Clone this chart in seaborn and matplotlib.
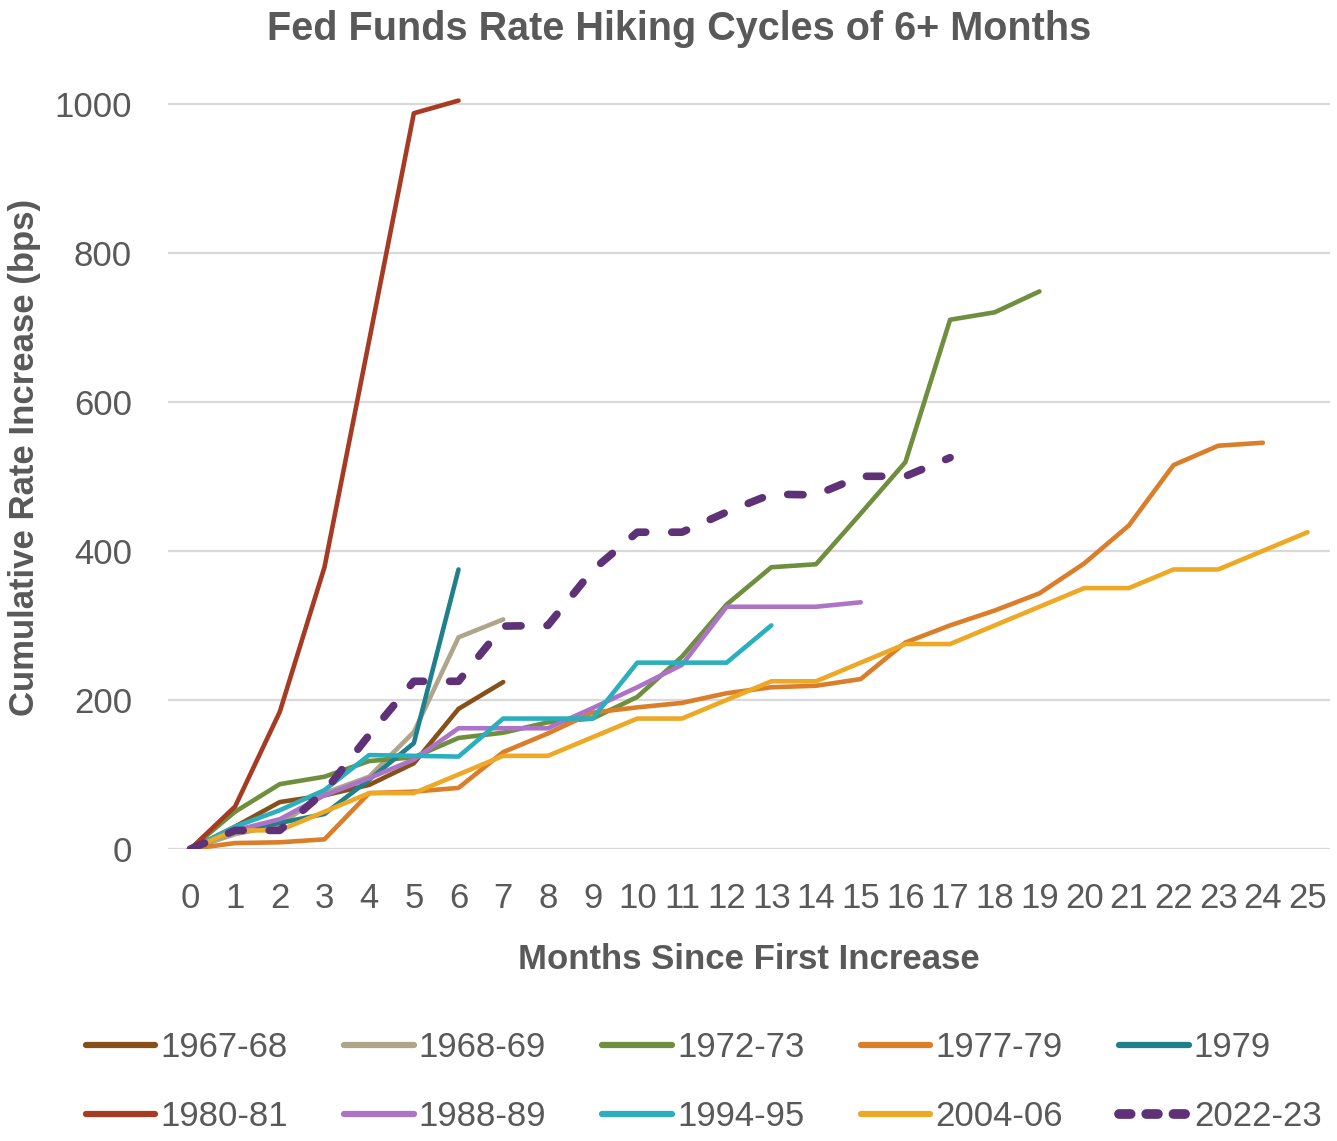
import numpy as np
import pandas as pd
import matplotlib
matplotlib.use("Agg")
import matplotlib.pyplot as plt
import seaborn as sns

# Cumulative increase (bps) by months since first hike
cycles = ["1967-68", "1968-69", "1972-73", "1977-79", "1979",
          "1980-81", "1988-89", "1994-95", "2004-06", "2022-23"]
c1967 = [0, 30, 63, 72, 86, 115, 188, 224]
c1968 = [0, 20, 32, 75, 97, 157, 284, 308]
c1972 = [0, 50, 87, 97, 118, 123, 149, 156, 170, 175, 204, 258, 328, 378, 382,
         450, 519, 710, 720, 748]
c1977 = [0, 8, 9, 13, 75, 77, 82, 130, 155, 183, 190, 196, 209, 217, 219,
         228, 277, 300, 320, 343, 383, 434, 515, 541, 545]
c1979 = [0, 25, 35, 47, 93, 142, 375]
c1980 = [0, 57, 184, 378, 682, 987, 1004]
c1988 = [0, 25, 40, 72, 95, 120, 162, 162, 162, 189, 217, 247, 325, 325, 325, 331]
c1994 = [0, 30, 52, 79, 126, 125, 124, 175, 175, 175, 250, 250, 250, 300]
c2004 = [0, 25, 25, 50, 75, 75, 100, 125, 125, 150, 175, 175, 200, 225, 225,
         250, 275, 275, 300, 325, 350, 350, 375, 375, 400, 425]
c2022 = [0, 25, 25, 77, 153, 225, 225, 299, 300, 374, 425, 425, 452, 476, 475,
         500, 500, 525]
values = [c1967, c1968, c1972, c1977, c1979, c1980, c1988, c1994, c2004, c2022]
colors = ["#85501A", "#AEA58A", "#6F8E3E", "#DA7E29", "#1F808C",
          "#A63A22", "#AD73C6", "#2AAFBE", "#EDA926", "#5F3277"]
month_ticks = list(range(0, 26))

rows = []
for name, vals in zip(cycles, values):
    for m, v in enumerate(vals):
        rows.append({"cycle": name, "month": m, "bps": v})
df = pd.DataFrame(rows)

sns.set_style("white")
plt.rcParams['font.family'] = ['Liberation Sans', 'DejaVu Sans']
grey = "#595959"

fig = plt.figure(figsize=(13.37, 11.41), dpi=100)
ax = fig.add_axes([0.1257, 0.2559, 0.869, 0.686])

palette = dict(zip(cycles, colors))
dashes = {c: "" for c in cycles}
dashes["2022-23"] = (2.0, 3.4)
sns.lineplot(data=df, x="month", y="bps", hue="cycle", style="cycle",
             hue_order=cycles, style_order=cycles, palette=palette,
             dashes=dashes, linewidth=3.3, legend=False, ax=ax)

for line in ax.lines:
    line.set_solid_capstyle("round")
    line.set_dash_capstyle("round")
    if matplotlib.colors.to_hex(line.get_color()).upper() == "#5F3277":
        line.set_linewidth(5.5)
        line.set_zorder(5)

ax.set_xlim(-0.5, 25.5)
ax.set_ylim(0, 1050)
ax.set_yticks([0, 200, 400, 600, 800, 1000])
ax.set_xticks(month_ticks)
ax.set_xticklabels([str(m) for m in month_ticks])
ax.grid(axis="y", color="#D9D9D9", linewidth=1.6)
ax.set_axisbelow(True)
for s in ax.spines.values():
    s.set_visible(False)
ax.tick_params(axis="both", length=0, labelsize=25, colors=grey)
ax.tick_params(axis="y", pad=26)
ax.tick_params(axis="x", pad=24)

ax.set_xlabel("Months Since First Increase", fontsize=25, fontweight="bold",
              color=grey, labelpad=20)
ax.set_ylabel("Cumulative Rate Increase (bps)", fontsize=25, fontweight="bold",
              color=grey, labelpad=10)
fig.text(0.508, 0.975, "Fed Funds Rate Hiking Cycles of 6+ Months",
         ha="center", va="center", fontsize=28.5, fontweight="bold", color=grey)

handles = [plt.Line2D([], [], color=palette[c], linewidth=4.5,
                      solid_capstyle="round") for c in cycles]
handles[-1] = plt.Line2D([], [], color=palette["2022-23"], linewidth=7,
                         linestyle=(0, (1.2, 1.6)), dash_capstyle="round")
# legend fills column-wise, so interleave the two rows
order = [0, 5, 1, 6, 2, 7, 3, 8, 4, 9]
leg = fig.legend([handles[i] for i in order], [cycles[i] for i in order],
                 ncol=5, loc="upper left", bbox_to_anchor=(0.064, 0.096),
                 frameon=False, fontsize=25, handlelength=2.0,
                 handletextpad=0.15, columnspacing=1.62, labelspacing=1.02,
                 borderaxespad=0, borderpad=0)
for t in leg.get_texts():
    t.set_color(grey)

fig.savefig("out.png", dpi=100)
